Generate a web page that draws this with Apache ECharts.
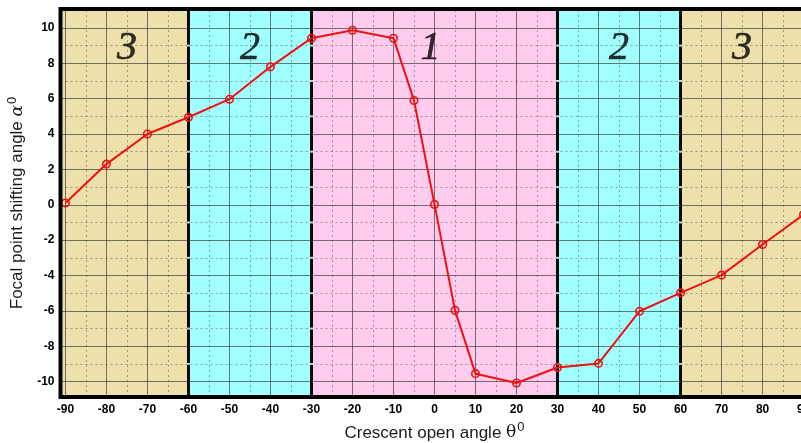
<!DOCTYPE html>
<html><head><meta charset="utf-8">
<script src="https://cdn.jsdelivr.net/npm/echarts@6/dist/echarts.min.js"></script>
<style>html,body{margin:0;padding:0;background:#fff}#c{width:801px;height:443px}</style>
</head><body><div id="c"></div>
<script>
// ---- data ----
const thetaValues = [-90,-80,-70,-60,-50,-40,-30,-20,-10,-5,0,5,10,20,30,40,50,60,70,80,90];
const alphaValues = [0.1,2.3,4.0,4.95,5.97,7.8,9.42,9.87,9.42,5.9,0.02,-5.97,-9.55,-10.08,-9.2,-8.97,-6.02,-4.98,-3.98,-2.25,-0.55];
const xTickLabels = [-90,-80,-70,-60,-50,-40,-30,-20,-10,0,10,20,30,40,50,60,70,80,90];
const yTickLabels = [-10,-8,-6,-4,-2,0,2,4,6,8,10];
const xMajorGrid = [-90,-80,-70,-50,-40,-20,-10,0,10,20,40,50,70,80,90];
const xMinorGrid = [-85,-75,-65,-55,-45,-35,-25,-15,-5,5,15,25,35,45,55,65,75,85];
const yMajorGrid = [-10,-8,-6,-4,-2,0,2,4,6,8,10];
const yMinorGrid = [-9,-7,-5,-3,-1,1,3,5,7,9];
const regionEdges = [-91.2,-60,-30,30,60,91.2];
const regionNames = ['3','2','1','2','3'];
const regionLabelX = [-75,-45,-1,45,75];
const regionLabelY = 8.85;
const regionBounds = [-60,-30,30,60];
const xRange = [-91.2, 91.2];
const yRange = [-10.87, 11.07];

// ---- build ----
const regionColors = ['#EDE0AA','#A2FFFF','#FFCCEE','#A2FFFF','#EDE0AA'];
const areaData = regionNames.map((n,i)=>[
  {xAxis: regionEdges[i], itemStyle:{color: regionColors[i]}},
  {xAxis: regionEdges[i+1]}
]);
const minorLines = xMinorGrid.map(v=>({xAxis:v})).concat(yMinorGrid.map(v=>({yAxis:v})));
const majorLines = xMajorGrid.map(v=>({xAxis:v})).concat(yMajorGrid.map(v=>({yAxis:v})));
const boundLines = regionBounds.map(v=>({xAxis:v}));
const dashPts = [];
regionBounds.forEach(b=>yMinorGrid.forEach(y=>dashPts.push([b,y])));
const lineData = thetaValues.map((t,i)=>[t, alphaValues[i]]);
const labelData = regionNames.map((n,i)=>({value:[regionLabelX[i], regionLabelY], name:n}));

const chart = echarts.init(document.getElementById('c'), null, {renderer:'canvas'});
const font = 'Arial, "Liberation Sans", sans-serif';
chart.setOption({
  animation:false,
  backgroundColor:'#fff',
  grid:{left:60.5, width:748, top:9, bottom:46, show:true, borderColor:'#000', borderWidth:4,
        backgroundColor:'transparent', z:10, containLabel:false, outerBoundsMode:'none'},
  xAxis:{
    type:'value', min:xRange[0], max:xRange[1],
    splitLine:{show:false}, axisTick:{show:false}, axisLine:{show:false},
    axisLabel:{customValues:xTickLabels, color:'#000', fontWeight:'bold', fontSize:12, fontFamily:font, margin:7},
    name:'{t|Crescent open angle }{g|θ}{s|0}', nameLocation:'middle', nameGap:24,
    nameTextStyle:{rich:{
      t:{fontSize:17, fontFamily:font, color:'#1a1a1a'},
      g:{fontSize:17, fontFamily:'"DejaVu Serif", serif', color:'#1a1a1a'},
      s:{fontSize:13, fontFamily:font, color:'#1a1a1a', verticalAlign:'bottom', padding:[0,0,11,1]}
    }}
  },
  yAxis:{
    type:'value', min:yRange[0], max:yRange[1],
    splitLine:{show:false}, axisTick:{show:false}, axisLine:{show:false},
    axisLabel:{customValues:yTickLabels, color:'#000', fontWeight:'bold', fontSize:12, fontFamily:font, margin:6},
    name:'{t|Focal point shifting angle }{g|α}{s|0}', nameLocation:'middle', nameGap:23, nameRotate:90,
    nameTextStyle:{rich:{
      t:{fontSize:17, fontFamily:font, color:'#1a1a1a'},
      g:{fontSize:17, fontFamily:'"DejaVu Serif", serif', fontStyle:'italic', color:'#1a1a1a'},
      s:{fontSize:13, fontFamily:font, color:'#1a1a1a', verticalAlign:'bottom', padding:[0,0,11,1]}
    }}
  },
  series:[
    {type:'line', data:[], z:1, silent:true,
     markArea:{silent:true, data:areaData}},
    {type:'line', data:[], z:2, silent:true,
     markLine:{silent:true, symbol:['none','none'], label:{show:false},
       lineStyle:{color:'rgba(90,90,90,0.55)', type:[2,3], width:1}, data:minorLines}},
    {type:'line', data:[], z:3, silent:true,
     markLine:{silent:true, symbol:['none','none'], label:{show:false},
       lineStyle:{color:'rgba(40,40,40,0.62)', type:'solid', width:1}, data:majorLines}},
    {type:'line', data:[], z:4, silent:true,
     markLine:{silent:true, symbol:['none','none'], label:{show:false},
       lineStyle:{color:'#0a0a0a', type:'solid', width:3}, data:boundLines}},
    {type:'scatter', data:dashPts, z:5, silent:true, symbol:'rect', symbolSize:[3,2],
     itemStyle:{color:'#fff'}},
    {type:'line', data:lineData, z:6, silent:true, symbol:'circle', symbolSize:7.5,
     lineStyle:{color:'#EE1111', width:2},
     itemStyle:{color:'rgba(0,0,0,0)', borderColor:'#EE1111', borderWidth:1.6}},
    {type:'scatter', data:labelData, z:7, silent:true, symbolSize:0,
     label:{show:true, position:'inside', formatter:p=>p.name, fontFamily:'"Liberation Serif","Times New Roman",serif',
       fontStyle:'italic', fontSize:40, color:'#000', textBorderColor:'#000', textBorderWidth:0.6}}
  ]
});
</script></body></html>
